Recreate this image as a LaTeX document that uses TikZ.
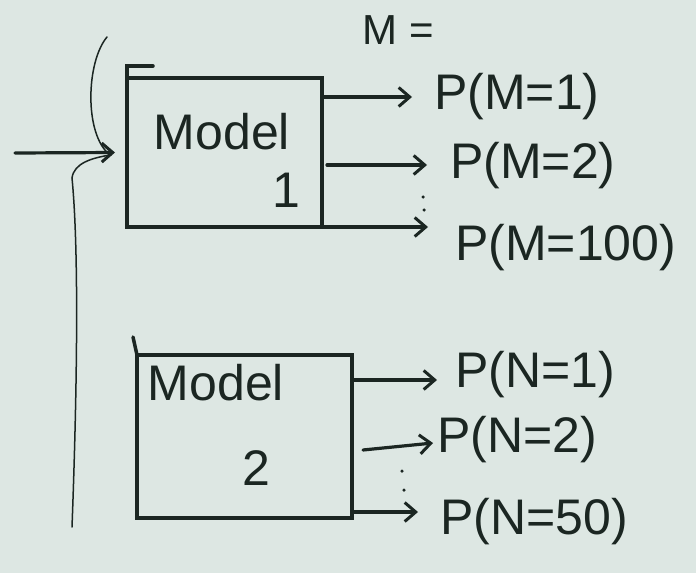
\documentclass[tikz,border=0pt]{standalone}
\usepackage{fontspec}
\setmainfont{Liberation Sans}
\usetikzlibrary{arrows.meta,calc}
\definecolor{paper}{HTML}{DDE7E3}
\definecolor{ink}{HTML}{1B2622}
\tikzset{
  modelbox/.style={draw=ink, line width=4pt, inner sep=0pt, outer sep=0pt},
  boxtext/.style={text=ink, font=\fontsize{50}{56}\selectfont},
  prob/.style={text=ink, anchor=west, inner sep=0pt, font=\fontsize{50}{56}\selectfont},
  outarrow/.style={draw=ink, line width=3.2pt, line cap=round,
    -{Straight Barb[length=11pt,width=19pt,line width=3pt]}},
  thinline/.style={draw=ink, line width=1.5pt, line cap=round},
  dot/.style={fill=ink, circle, inner sep=0pt, minimum size=3.5pt}
}
\begin{document}
\begin{tikzpicture}[x=1pt,y=-1pt]
  % sheet
  \fill[paper] (0,0) rectangle (696,573);
  \useasboundingbox (0,0) rectangle (696,573);

  % the two model boxes
  \node[modelbox, minimum width=195pt, minimum height=149pt] (m1) at (224.5,152.5) {};
  \node[modelbox, minimum width=215pt, minimum height=163pt] (m2) at (244.5,436.5) {};
  \draw[ink, line width=3.5pt, line cap=round] (m1.north west) -- ++(0,-12) -- ++(26,0);
  \draw[ink, line width=3.5pt, line cap=round] (m2.north west) -- ++(-4,-18);

  \node[boxtext] (t1) at (222,132) {Model};
  \node[boxtext] (n1) at (286,190) {1};
  \node[boxtext] (t2) at (216,383) {Model};
  \node[boxtext] (n2) at (256,468) {2};

  % input and the bracket joining both models
  \coordinate (in) at (15,153);
  \draw[outarrow] (in) -- ([xshift=-12pt]m1.west);
  \draw[thinline] (107,37) .. controls (86,62) and (84,135) .. (110,155)
                  .. controls (92,158) and (74,163) .. (72,178)
                  .. controls (80,260) and (76,420) .. (72,527);

  % outputs of model 1
  \node[text=ink, font=\fontsize{42}{48}\selectfont] (mlab) at (398,30) {M =};
  \node[prob] (p11) at (434,97) {P(M=1)};
  \node[prob] (p12) at (450,166) {P(M=2)};
  \node[prob] (p13) at (455,248) {P(M=100)};
  \coordinate (a11) at (412,97);
  \coordinate (a12) at (427,165);
  \coordinate (a13) at (428,227);
  \draw[outarrow] (m1.east |- a11) -- (a11);
  \draw[outarrow] ([xshift=5pt]m1.east |- a12) -- (a12);
  \draw[outarrow] (m1.east |- a13) -- (a13);
  \node[dot] (d11) at (423,197) {};
  \node[dot] (d12) at (424,210) {};

  % outputs of model 2
  \node[prob] (p21) at (455,375) {P(N=1)};
  \node[prob] (p22) at (437,440) {P(N=2)};
  \node[prob] (p23) at (440,522) {P(N=50)};
  \coordinate (a21) at (437,380);
  \coordinate (s22) at (363,450);
  \coordinate (a22) at (433,443);
  \coordinate (a23) at (418,512);
  \draw[outarrow] (m2.east |- a21) -- (a21);
  \draw[outarrow] (s22) -- (a22);
  \draw[outarrow] (m2.east |- a23) -- (a23);
  \node[dot] (d21) at (402,471) {};
  \node[dot] (d22) at (404,490) {};
\end{tikzpicture}
\end{document}
